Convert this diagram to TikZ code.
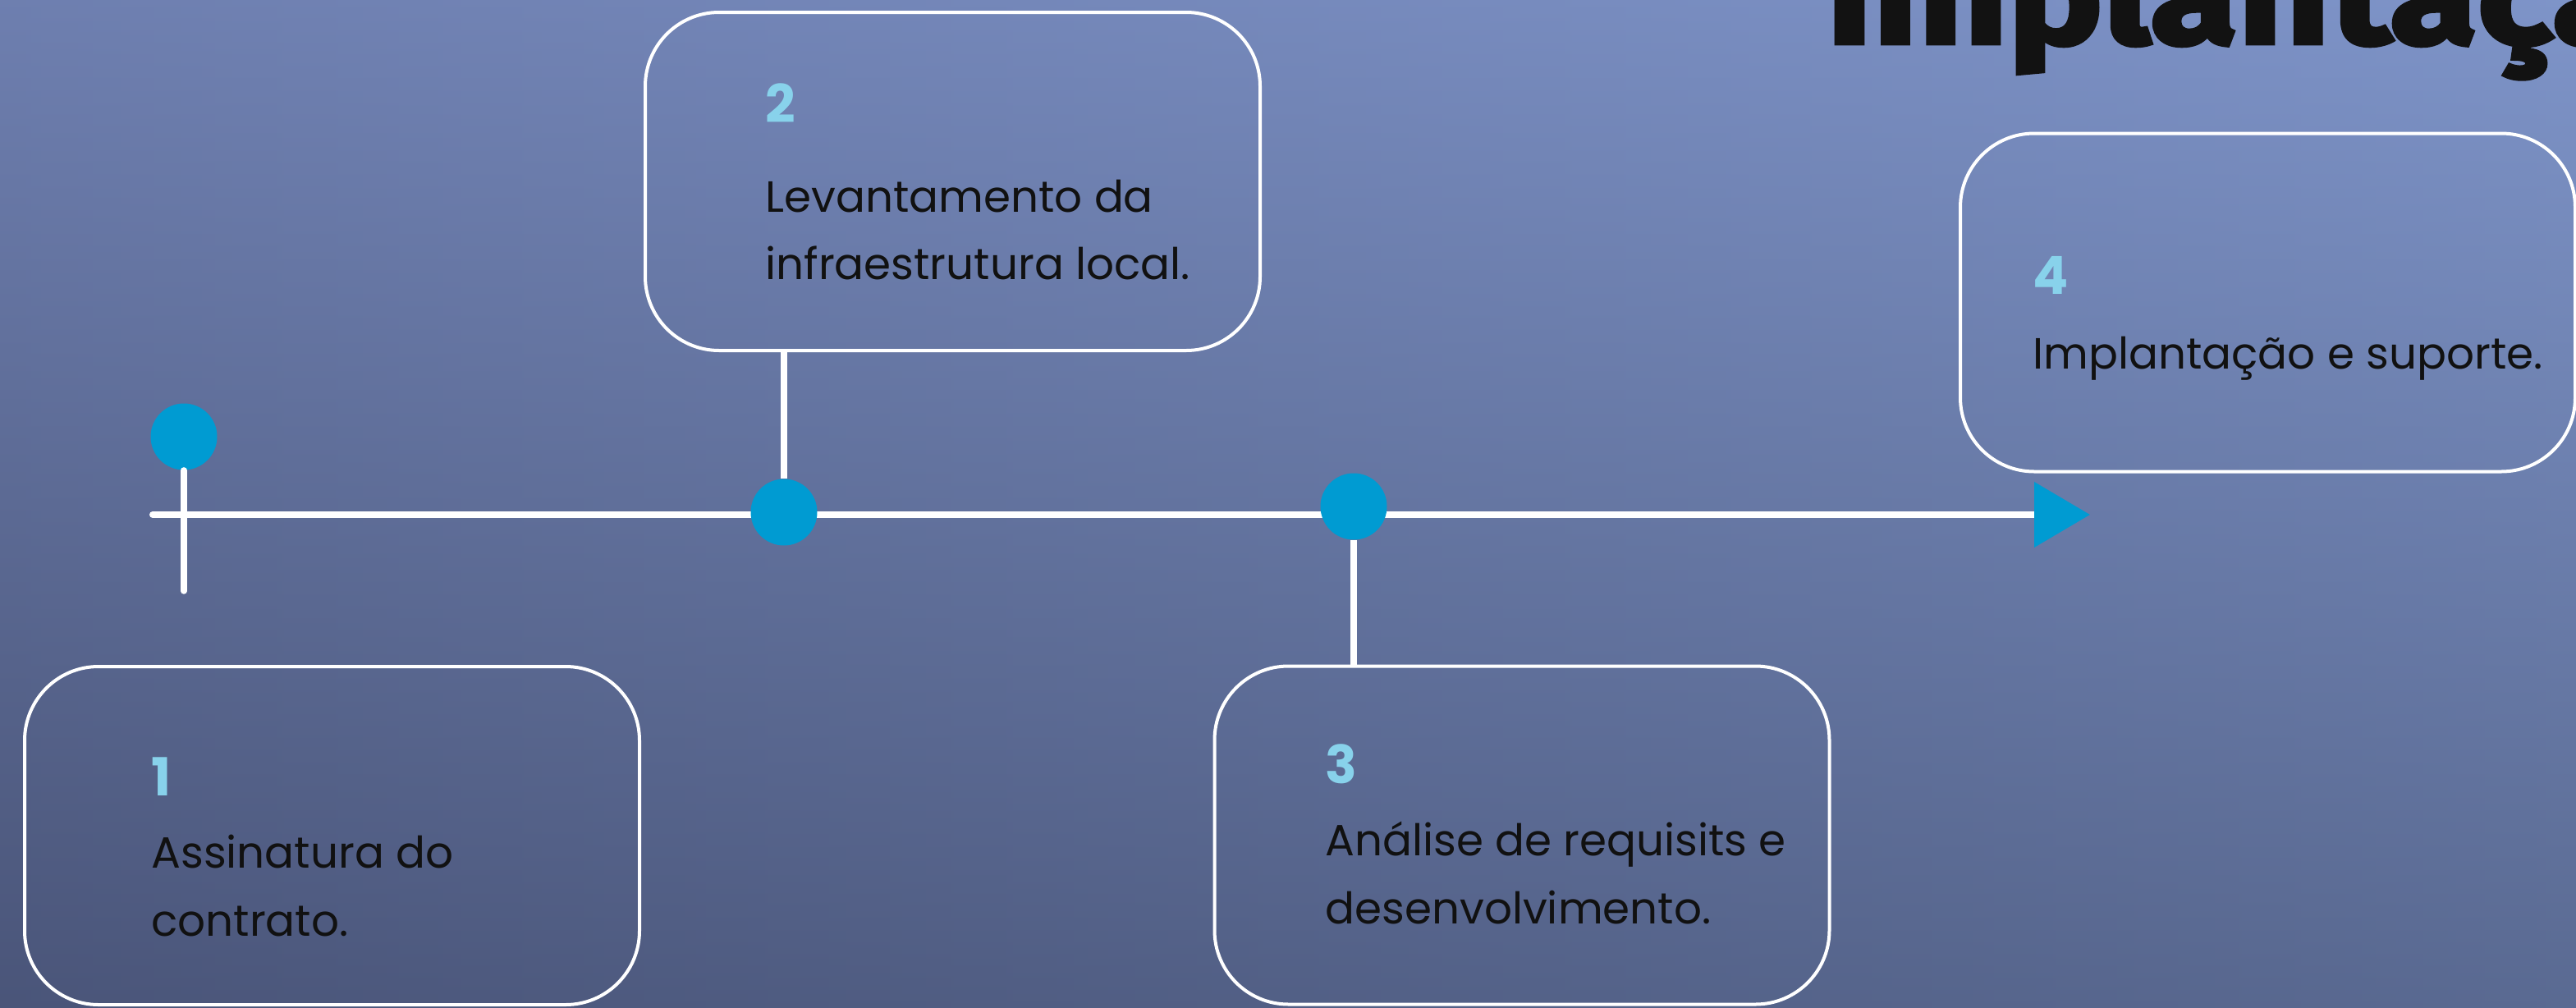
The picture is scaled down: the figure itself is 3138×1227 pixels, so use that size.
\documentclass[tikz,border=0pt]{standalone}
\usepackage{fontspec}
\setmainfont{Poppins}
\newfontfamily\titlefont{Fira Sans}[FakeStretch=1.18, BoldFeatures={FakeBold=3}]
\usetikzlibrary{arrows.meta}
\definecolor{tlblue}{RGB}{0,155,210}
\definecolor{numcol}{RGB}{136,210,235}
\definecolor{txt}{RGB}{17,17,17}
\definecolor{vtop}{RGB}{92,126,224}
\definecolor{vmid}{RGB}{44,66,150}
\definecolor{vbot}{RGB}{20,42,114}
\definecolor{hl}{RGB}{128,128,128}
\definecolor{hr}{RGB}{160,170,178}
\begin{document}
\begin{tikzpicture}[x=0.5pt,y=-0.5pt,
  stepbox/.style={draw=white, line width=2pt, rounded corners=45pt, minimum width=374.5pt, minimum height=206pt, inner sep=0pt},
  dot/.style={circle, fill=tlblue, minimum size=40.5pt, inner sep=0pt},
  conn/.style={draw=white, line width=3.75pt},
  num/.style={anchor=base west, inner sep=0pt, font=\fontsize{32}{32}\selectfont\bfseries, text=numcol},
  body/.style={anchor=base west, inner sep=0pt, font=\fontsize{26.6}{26.6}\selectfont, text=txt}]
\useasboundingbox (0,0) rectangle (3138,1227);
% background
\shade[top color=vtop, middle color=vmid, bottom color=vbot] (0,0) rectangle (3138,1227);
\shade[left color=hl, right color=hr, opacity=0.5] (0,0) rectangle (3138,1227);
% title
\node[anchor=base west, inner sep=0pt, font=\titlefont\bfseries\fontsize{82.5}{82.5}\selectfont, text=black!93] (title) at (2224,53) {Implantação};
% boxes
\node[stepbox] (b1) at (404.5,1018) {};
\node[stepbox] (b2) at (1160.5,221) {};
\node[stepbox] (b3) at (1854,1017.5) {};
\node[stepbox] (b4) at (2762.5,368.5) {};
% timeline
\coordinate (tl0) at (186,627);
\coordinate (tl1) at (2546,627);
\draw[white, line width=4pt, line cap=round, -{Triangle[length=34pt,width=39pt,color=tlblue]}] (tl0) -- (tl1);
% dots
\node[dot] (c1) at (224,532) {};
\node[dot] (c2) at (955,624) {};
\node[dot] (c3) at (1649,617) {};
\coordinate (t1) at (224,720);
% connectors
\draw[conn, line cap=round] (c1.south) -- (t1);
\draw[conn] (c2.north) -- (c2.north |- b2.south);
\draw[conn] (c3.south) -- (c3.south |- b3.north);
% texts
\node[num] (n1) at (184,969) {1};
\node[body] (l1a) at (184,1057.5) {Assinatura do};
\node[body] (l1b) at (184,1140) {contrato.};
\node[num] (n2) at (932,149.6) {2};
\node[body] (l2a) at (932,258) {Levantamento da};
\node[body] (l2b) at (932,340.6) {infraestrutura local.};
\node[num] (n3) at (1614,954.7) {3};
\node[body] (l3a) at (1614,1042.8) {Análise de requisits e};
\node[body] (l3b) at (1614,1125.7) {desenvolvimento.};
\node[num] (n4) at (2476,358) {4};
\node[body] (l4a) at (2476,449.7) {Implantação e suporte.};
\end{tikzpicture}
\end{document}
